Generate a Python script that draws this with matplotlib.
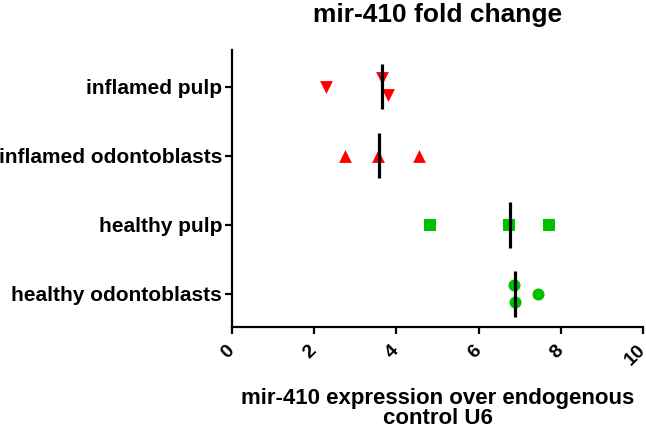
import matplotlib
matplotlib.use("Agg")
import matplotlib.pyplot as plt
import matplotlib.transforms as mtransforms
import numpy as np

plt.rcParams["font.family"] = ["Liberation Sans", "DejaVu Sans"]
plt.rcParams["font.weight"] = "bold"

# groups, listed from bottom to top
groups = ["healthy odontoblasts", "healthy pulp",
          "inflamed odontoblasts", "inflamed pulp"]
values = [
    [6.89, 6.87, 7.44],
    [4.82, 6.75, 7.71],
    [2.75, 3.56, 4.55],
    [2.30, 3.66, 3.79],
]
medians = [6.89, 6.76, 3.57, 3.66]
markers = ["o", "s", "^", "v"]
sizes = [75, 70, 85, 85]
colors = ["#00c000", "#00c000", "#ff0000", "#ff0000"]
x_ticks = [0, 2, 4, 6, 8, 10]


def swarm_offsets(x, min_dist=0.3, step=0.25):
    # spread points that sit too close in x up and down around the row
    x = np.asarray(x)
    off = np.zeros(len(x))
    order = np.argsort(x)
    i = 0
    while i < len(order):
        j = i
        while j + 1 < len(order) and x[order[j + 1]] - x[order[j]] < min_dist:
            j += 1
        n = j - i + 1
        if n > 1:
            pos = (np.arange(n) - (n - 1) / 2) * step
            for k, idx in enumerate(order[i:j + 1]):
                off[idx] = -pos[k]
        i = j + 1
    return off


fig = plt.figure(figsize=(6.46, 4.29), dpi=100)
ax = fig.add_axes([0.359, 0.2378, 0.6364, 0.6456])

for i, (v, med, m, sz, c) in enumerate(zip(values, medians, markers, sizes, colors)):
    off = swarm_offsets(v)
    ax.scatter(v, i + off, marker=m, s=sz, color=c, linewidths=0, zorder=2)
    ax.plot([med, med], [i - 0.33, i + 0.33], color="black", lw=2.3,
            solid_capstyle="butt", zorder=3)

ax.set_xlim(0, 10)
ax.set_ylim(-0.48, 3.53)
ax.set_xticks(x_ticks)
ax.set_xticklabels([str(t) for t in x_ticks], rotation=45, ha="right",
                   va="center", rotation_mode="anchor",
                   fontsize=14, fontweight="bold")
shift = mtransforms.ScaledTranslation(1.5 / 100, 0, fig.dpi_scale_trans)
for lab in ax.get_xticklabels():
    lab.set_transform(lab.get_transform() + shift)
ax.set_yticks(range(len(groups)))
ax.set_yticklabels(groups, fontsize=15, fontweight="bold")
ax.tick_params(axis="x", length=5, width=1.6, pad=10)
ax.tick_params(axis="y", length=5, width=1.6, pad=2)
for s in ["top", "right"]:
    ax.spines[s].set_visible(False)
for s in ["left", "bottom"]:
    ax.spines[s].set_linewidth(1.6)

ax.set_xlabel("mir-410 expression over endogenous\ncontrol U6",
              fontsize=16, fontweight="bold", linespacing=0.88)
ax.xaxis.set_label_coords(0.5, -0.222)
ax.set_title("mir-410 fold change", fontsize=19, fontweight="bold", pad=20)

fig.savefig("out.png", dpi=100)
